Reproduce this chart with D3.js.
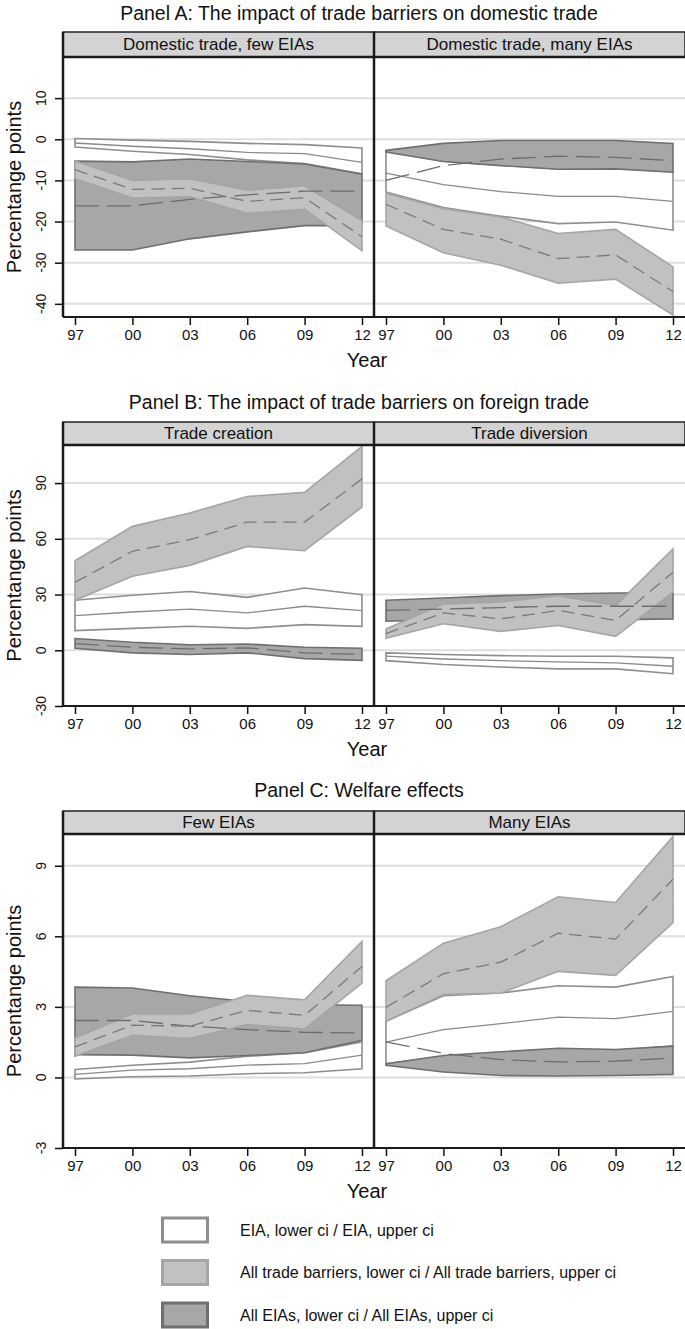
<!DOCTYPE html>
<html><head><meta charset="utf-8">
<script src="https://cdn.jsdelivr.net/npm/d3@7"></script>
<style>body{margin:0;background:#fff}svg{display:block;font-family:"Liberation Sans",Arial,sans-serif}</style>
</head><body><svg id="c" width="685" height="1329"></svg>
<script>
// ---------- data ----------
const years = [1997, 2000, 2003, 2006, 2009, 2012];
const yearLabels = ["97", "00", "03", "06", "09", "12"];
const ticksA = [-40, -30, -20, -10, 0, 10];
const ticksB = [-30, 0, 30, 60, 90];
const ticksC = [-3, 0, 3, 6, 9];
const panelTitles = ["Panel A: The impact of trade barriers on domestic trade",
                     "Panel B: The impact of trade barriers on foreign trade",
                     "Panel C: Welfare effects"];
const facetLabels = [["Domestic trade, few EIAs", "Domestic trade, many EIAs"],
                     ["Trade creation", "Trade diversion"],
                     ["Few EIAs", "Many EIAs"]];
const legendLabels = ["EIA, lower ci / EIA, upper ci",
                      "All trade barriers, lower ci / All trade barriers, upper ci",
                      "All EIAs, lower ci / All EIAs, upper ci"];

// Panel A, few EIAs
const A1_eia_lo = [-1.9, -2.9, -3.7, -5.0, -5.9, -8.4];
const A1_eia_pt = [-0.9, -1.7, -2.3, -3.2, -3.5, -5.6];
const A1_eia_hi = [0.2, -0.2, -0.5, -1.0, -1.3, -2.1];
const A1_all_lo = [-9.6, -14.3, -14.0, -18.0, -17.0, -27.1];
const A1_all_pt = [-7.4, -12.2, -11.9, -15.1, -14.2, -23.7];
const A1_all_hi = [-5.3, -10.0, -9.6, -12.4, -11.3, -19.8];
const A1_eias_lo = [-26.9, -26.9, -24.2, -22.5, -21.0, -21.0];
const A1_eias_pt = [-16.2, -16.2, -14.6, -13.5, -12.6, -12.6];
const A1_eias_hi = [-5.3, -5.5, -4.8, -5.4, -6.0, -8.5];
// Panel A, many EIAs
const A2_eia_lo = [-12.8, -16.6, -18.7, -20.5, -20.1, -22.1];
const A2_eia_pt = [-8.2, -11.0, -12.7, -13.9, -13.9, -15.1];
const A2_eia_hi = [-2.8, -5.3, -6.3, -7.2, -7.1, -7.9];
const A2_all_lo = [-21.1, -27.6, -30.6, -35.0, -34.0, -42.7];
const A2_all_pt = [-15.8, -21.9, -24.3, -29.0, -28.1, -37.0];
const A2_all_hi = [-13.1, -16.9, -18.9, -22.9, -21.9, -31.0];
const A2_eias_lo = [-3.1, -5.4, -6.4, -7.3, -7.2, -8.0];
const A2_eias_pt = [-10.0, -6.4, -4.8, -4.1, -4.4, -5.2];
const A2_eias_hi = [-2.7, -1.0, -0.3, -0.3, -0.3, -1.0];
// Panel B, trade creation
const B1_eia_lo = [10.6, 11.8, 12.9, 11.8, 13.8, 12.9];
const B1_eia_pt = [18.6, 20.6, 22.1, 20.1, 23.7, 21.3];
const B1_eia_hi = [26.9, 29.6, 31.6, 28.5, 33.5, 29.9];
const B1_all_lo = [26.9, 39.8, 45.7, 55.9, 53.6, 77.1];
const B1_all_pt = [36.6, 53.3, 59.5, 69.0, 69.0, 92.3];
const B1_all_hi = [48.2, 66.7, 73.9, 82.8, 85.0, 109.7];
const B1_eias_lo = [1.1, -1.4, -2.3, -1.4, -4.5, -5.4];
const B1_eias_pt = [3.6, 1.6, 0.7, 1.3, -1.4, -2.2];
const B1_eias_hi = [6.3, 4.3, 3.0, 3.4, 1.6, 1.1];
// Panel B, trade diversion
const B2_eia_lo = [-5.6, -7.7, -9.0, -10.0, -10.0, -12.6];
const B2_eia_pt = [-3.2, -4.7, -5.6, -6.3, -6.8, -8.6];
const B2_eia_hi = [-1.4, -2.3, -2.9, -3.2, -3.2, -4.1];
const B2_all_lo = [6.5, 14.3, 10.2, 13.3, 7.5, 31.2];
const B2_all_pt = [9.0, 20.1, 16.9, 21.5, 16.0, 42.0];
const B2_all_hi = [11.5, 24.9, 26.0, 29.4, 24.0, 54.5];
const B2_eias_lo = [15.6, 16.5, 16.5, 16.5, 16.5, 16.9];
const B2_eias_pt = [21.5, 22.2, 23.0, 23.7, 23.7, 23.7];
const B2_eias_hi = [26.9, 28.1, 29.4, 30.3, 30.8, 30.8];
// Panel C, few EIAs
const C1_eia_lo = [-0.06, 0.03, 0.06, 0.16, 0.20, 0.37];
const C1_eia_pt = [0.13, 0.31, 0.37, 0.52, 0.59, 0.95];
const C1_eia_hi = [0.34, 0.52, 0.65, 0.90, 1.05, 1.51];
const C1_all_lo = [0.90, 1.79, 1.65, 2.25, 2.06, 4.01];
const C1_all_pt = [1.30, 2.22, 2.18, 2.85, 2.64, 4.72];
const C1_all_hi = [1.68, 2.70, 2.70, 3.49, 3.30, 5.78];
const C1_eias_lo = [0.97, 0.95, 0.83, 0.93, 1.05, 1.58];
const C1_eias_pt = [2.42, 2.42, 2.18, 2.03, 1.92, 1.89];
const C1_eias_hi = [3.84, 3.80, 3.47, 3.23, 3.09, 3.07];
// Panel C, many EIAs
const C2_eia_lo = [0.58, 0.90, 1.05, 1.20, 1.15, 1.33];
const C2_eia_pt = [1.50, 2.03, 2.29, 2.56, 2.50, 2.81];
const C2_eia_hi = [2.39, 3.47, 3.59, 3.90, 3.84, 4.29];
const C2_all_lo = [2.39, 3.52, 3.59, 4.51, 4.34, 6.58];
const C2_all_pt = [2.98, 4.41, 4.90, 6.13, 5.88, 8.43];
const C2_all_hi = [4.11, 5.71, 6.41, 7.68, 7.44, 10.25];
const C2_eias_lo = [0.52, 0.23, 0.08, 0.06, 0.08, 0.13];
const C2_eias_pt = [1.51, 1.02, 0.76, 0.66, 0.69, 0.83];
const C2_eias_hi = [0.58, 0.93, 1.09, 1.24, 1.19, 1.33];

// ---------- layout / style ----------
const styles = {
  eia:  {fill: "#ffffff", stroke: "#8e8e8e", line: "#8a8a8a", dash: null},
  eias: {fill: "#a7a7a7", stroke: "#6f6f6f", line: "#6c6c6c", dash: "24,8"},
  all:  {fill: "#c1c1c1", stroke: "#a5a5a5", line: "#7a7a7a", dash: "13,7"}
};
const panels = [
  {titleY: 13, stripTop: 32, top: 57, bottom: 317, domain: [-43.2, 20], ticks: ticksA,
   facets: [
     {eia: [A1_eia_lo, A1_eia_pt, A1_eia_hi], all: [A1_all_lo, A1_all_pt, A1_all_hi], eias: [A1_eias_lo, A1_eias_pt, A1_eias_hi]},
     {eia: [A2_eia_lo, A2_eia_pt, A2_eia_hi], all: [A2_all_lo, A2_all_pt, A2_all_hi], eias: [A2_eias_lo, A2_eias_pt, A2_eias_hi]}]},
  {titleY: 402, stripTop: 422, top: 445, bottom: 706, domain: [-30, 110.5], ticks: ticksB,
   facets: [
     {eia: [B1_eia_lo, B1_eia_pt, B1_eia_hi], all: [B1_all_lo, B1_all_pt, B1_all_hi], eias: [B1_eias_lo, B1_eias_pt, B1_eias_hi]},
     {eia: [B2_eia_lo, B2_eia_pt, B2_eia_hi], all: [B2_all_lo, B2_all_pt, B2_all_hi], eias: [B2_eias_lo, B2_eias_pt, B2_eias_hi]}]},
  {titleY: 790, stripTop: 811, top: 834, bottom: 1148, domain: [-3, 10.35], ticks: ticksC,
   facets: [
     {eia: [C1_eia_lo, C1_eia_pt, C1_eia_hi], all: [C1_all_lo, C1_all_pt, C1_all_hi], eias: [C1_eias_lo, C1_eias_pt, C1_eias_hi]},
     {eia: [C2_eia_lo, C2_eia_pt, C2_eia_hi], all: [C2_all_lo, C2_all_pt, C2_all_hi], eias: [C2_eias_lo, C2_eias_pt, C2_eias_hi]}]}
];
const facetX = [63, 374], facetW = 311, plotLeft = 63, plotRight = 685;

const svg = d3.select("#c");

panels.forEach((p, pi) => {
  const g = svg.append("g");
  const y = d3.scaleLinear().domain(p.domain).range([p.bottom, p.top]);

  g.append("text").attr("x", 359).attr("y", p.titleY).attr("dy", "0.35em")
    .attr("text-anchor", "middle").attr("font-size", 19.5).attr("fill", "#111")
    .text(panelTitles[pi]);

  // gridlines
  g.selectAll(".grid").data(p.ticks).join("line")
    .attr("x1", plotLeft).attr("x2", plotRight)
    .attr("y1", d => y(d)).attr("y2", d => y(d))
    .attr("stroke", "#dedede").attr("stroke-width", 2);

  p.facets.forEach((f, fi) => {
    const x0 = facetX[fi];
    const x = d3.scaleLinear().domain([1997, 2012]).range([x0 + 12, x0 + facetW - 12]);
    const area = d3.area().x((d, i) => x(years[i])).y0(d => y(d[0])).y1(d => y(d[1]));
    const line = d3.line().x((d, i) => x(years[i])).y(d => y(d));
    const fg = g.append("g");
    ["eia", "eias", "all"].forEach(k => {
      const [lo, pt, hi] = f[k];
      const st = styles[k];
      const data = years.map((yr, i) => [lo[i], hi[i]]);
      fg.append("path").attr("d", area(data) + "")
        .attr("fill", st.fill).attr("stroke", st.stroke).attr("stroke-width", 1.6)
        .attr("stroke-linejoin", "miter");
    });
    ["eia", "eias", "all"].forEach(k => {
      const pt = f[k][1];
      const st = styles[k];
      fg.append("path").attr("d", line(pt)).attr("fill", "none")
        .attr("stroke", st.line).attr("stroke-width", 1.3)
        .attr("stroke-dasharray", st.dash);
    });

    // x axis
    const ax = g.append("g").attr("transform", `translate(0,${p.bottom})`)
      .call(d3.axisBottom(x).tickValues(years).tickFormat((d, i) => yearLabels[i]).tickSize(8).tickSizeOuter(0).tickPadding(4));
    ax.select(".domain").remove();
    ax.selectAll(".tick line").attr("stroke", "#111").attr("stroke-width", 1.5);
    ax.selectAll(".tick text").attr("font-size", 15).attr("fill", "#111")
      .attr("font-family", '"Liberation Sans", Arial, sans-serif');

    // strip
    g.append("rect").attr("x", x0).attr("y", p.stripTop).attr("width", facetW).attr("height", p.top - p.stripTop)
      .attr("fill", "#d3d3d3").attr("stroke", "#222").attr("stroke-width", 1.5);
    g.append("text").attr("x", x0 + facetW / 2).attr("y", (p.stripTop + p.top) / 2).attr("dy", "0.35em")
      .attr("text-anchor", "middle").attr("font-size", 17).attr("fill", "#111").text(facetLabels[pi][fi]);
  });

  // frame lines
  g.append("line").attr("x1", plotLeft).attr("x2", plotRight).attr("y1", p.top).attr("y2", p.top)
    .attr("stroke", "#1a1a1a").attr("stroke-width", 2.5);
  g.append("line").attr("x1", plotLeft).attr("x2", plotRight).attr("y1", p.bottom).attr("y2", p.bottom)
    .attr("stroke", "#1a1a1a").attr("stroke-width", 2);
  g.append("line").attr("x1", plotLeft).attr("x2", plotLeft).attr("y1", p.stripTop).attr("y2", p.bottom)
    .attr("stroke", "#1a1a1a").attr("stroke-width", 2.5);
  g.append("line").attr("x1", facetX[1]).attr("x2", facetX[1]).attr("y1", p.stripTop).attr("y2", p.bottom)
    .attr("stroke", "#1a1a1a").attr("stroke-width", 2.5);

  // y axis
  const ay = g.append("g").attr("transform", `translate(${plotLeft},0)`)
    .call(d3.axisLeft(y).tickValues(p.ticks).tickSize(8).tickSizeOuter(0).tickFormat(d3.format("d")));
  ay.select(".domain").remove();
  ay.selectAll(".tick line").attr("stroke", "#111").attr("stroke-width", 1.5);
  ay.selectAll(".tick text").remove();
  g.selectAll(".ylab").data(p.ticks).join("text")
    .attr("transform", d => `translate(41,${y(d)}) rotate(-90)`)
    .attr("dy", "0.35em").attr("text-anchor", "middle").attr("font-size", 14).attr("fill", "#111")
    .text(d => d);

  g.append("text").attr("transform", `translate(14,${(p.top + p.bottom) / 2}) rotate(-90)`)
    .attr("dy", "0.35em").attr("text-anchor", "middle").attr("font-size", 20).attr("fill", "#111")
    .text("Percentange points");
  g.append("text").attr("x", 367).attr("y", p.bottom + 43).attr("dy", "0.35em")
    .attr("text-anchor", "middle").attr("font-size", 20).attr("fill", "#111").text("Year");
});

// legend
const legKeys = ["eia", "all", "eias"];
const legY = [1230, 1272.5, 1315];
const lg = svg.append("g");
legKeys.forEach((k, i) => {
  lg.append("rect").attr("x", 162.5).attr("y", legY[i] - 12).attr("width", 45).attr("height", 24)
    .attr("fill", styles[k].fill).attr("stroke", styles[k].stroke).attr("stroke-width", 3);
  lg.append("text").attr("x", 240).attr("y", legY[i]).attr("dy", "0.35em")
    .attr("font-size", 16).attr("fill", "#111").text(legendLabels[i]);
});
</script></body></html>
